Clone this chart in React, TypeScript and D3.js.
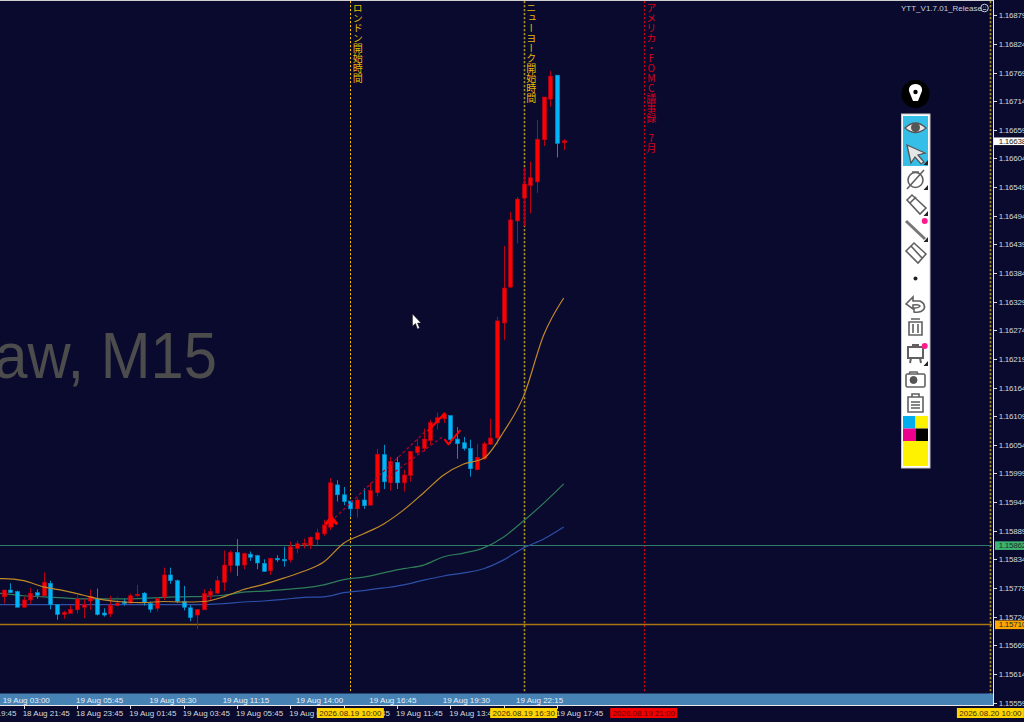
import React from "react";
import * as d3 from "d3";

const width = 1024;
const height = 722;

// OHLC per 15 minute bar
const opens = [
  1.15762, 1.15775, 1.15772, 1.15742, 1.15756, 1.1577, 1.15764, 1.15788, 1.15747, 1.15728,
  1.1573, 1.15737, 1.15742, 1.15754, 1.15758, 1.15731, 1.15729, 1.15745, 1.15753, 1.1575,
  1.15764, 1.15769, 1.15749, 1.1574, 1.15762, 1.15804, 1.15793, 1.15753, 1.15741, 1.15727,
  1.15737, 1.15765, 1.15769, 1.1579, 1.15822, 1.15847, 1.15823, 1.15844, 1.15841, 1.15826,
  1.15812, 1.15836, 1.15834, 1.15833, 1.15855, 1.15862, 1.15861, 1.15872, 1.15883, 1.15896,
  1.15977, 1.15958, 1.15946, 1.15931, 1.15948, 1.15938, 1.15962, 1.16035, 1.15981, 1.1602,
  1.15981, 1.15995, 1.16039, 1.16047, 1.16062, 1.16096, 1.16104, 1.1611, 1.16065, 1.16058,
  1.16047, 1.16006, 1.16027, 1.16055, 1.16067, 1.16288, 1.16357, 1.16484, 1.16528, 1.16552,
  1.16559, 1.1664, 1.16718, 1.16764, 1.16634,
];
const highs = [
  1.15775, 1.15788, 1.15774, 1.15762, 1.15779, 1.15776, 1.15809, 1.15793, 1.15747, 1.15735,
  1.15746, 1.15765, 1.15758, 1.15776, 1.15778, 1.1574, 1.15764, 1.15762, 1.15758, 1.15768,
  1.15785, 1.15771, 1.15753, 1.15762, 1.15818, 1.15818, 1.15795, 1.15783, 1.15746, 1.15738,
  1.15777, 1.15778, 1.15802, 1.15851, 1.15851, 1.15873, 1.15847, 1.15849, 1.15843, 1.15834,
  1.15837, 1.15842, 1.15858, 1.15868, 1.1587, 1.15874, 1.15878, 1.15893, 1.1591, 1.1599,
  1.15986, 1.15973, 1.15946, 1.15952, 1.15971, 1.15981, 1.16046, 1.16054, 1.16031, 1.16031,
  1.16006, 1.16042, 1.16065, 1.16085, 1.16102, 1.16116, 1.16116, 1.1611, 1.16088, 1.16069,
  1.16064, 1.16056, 1.1606, 1.16104, 1.163, 1.16436, 1.16501, 1.1653, 1.16586, 1.16598,
  1.16678, 1.16722, 1.16772, 1.16764, 1.16641,
];
const lows = [
  1.15749, 1.1577, 1.15742, 1.15742, 1.15748, 1.15758, 1.15764, 1.15738, 1.15718, 1.1572,
  1.1573, 1.1573, 1.15721, 1.15737, 1.15726, 1.15724, 1.15723, 1.15744, 1.15745, 1.15749,
  1.15762, 1.15745, 1.15732, 1.15734, 1.15756, 1.15787, 1.1575, 1.15736, 1.15715, 1.157,
  1.15737, 1.15754, 1.15768, 1.15773, 1.15809, 1.15802, 1.15815, 1.15831, 1.15815, 1.1581,
  1.15804, 1.15829, 1.1582, 1.15828, 1.15846, 1.15855, 1.15854, 1.15861, 1.15879, 1.1589,
  1.15945, 1.15938, 1.15916, 1.15914, 1.15931, 1.15938, 1.15955, 1.15969, 1.15966, 1.15969,
  1.15964, 1.15983, 1.16035, 1.16041, 1.16054, 1.16083, 1.16096, 1.16056, 1.16027, 1.16043,
  1.15993, 1.16006, 1.16025, 1.16054, 1.16054, 1.16255, 1.16355, 1.16441, 1.16474, 1.16499,
  1.16538, 1.16628, 1.16703, 1.16606, 1.1662,
];
const closes = [
  1.15775, 1.1577, 1.15742, 1.15756, 1.15769, 1.15765, 1.1579, 1.15747, 1.15728, 1.15732,
  1.15738, 1.15758, 1.15747, 1.15763, 1.15728, 1.15727, 1.15746, 1.1575, 1.15749, 1.15764,
  1.15767, 1.15751, 1.15738, 1.15759, 1.15804, 1.15793, 1.15753, 1.15742, 1.15722, 1.15738,
  1.15768, 1.15772, 1.15793, 1.15823, 1.15847, 1.15822, 1.15845, 1.15838, 1.15827, 1.15811,
  1.15836, 1.15833, 1.15832, 1.15858, 1.15864, 1.15865, 1.15876, 1.15885, 1.159, 1.15981,
  1.15958, 1.15945, 1.15931, 1.15948, 1.15937, 1.15966, 1.16036, 1.15983, 1.16022, 1.15981,
  1.15996, 1.16041, 1.16051, 1.16065, 1.16097, 1.16106, 1.16113, 1.16064, 1.16056, 1.16047,
  1.16008, 1.1603, 1.16056, 1.16067, 1.16292, 1.16355, 1.16486, 1.16526, 1.16555, 1.16567,
  1.16641, 1.16722, 1.16762, 1.16633, 1.16638,
];

// moving averages, read at the left edge and then every third bar
const maBars = [-1, ...d3.range(0, 85, 3)];
const maOrange = [
  1.15797, 1.15797, 1.15793, 1.15781, 1.15774, 1.15765, 1.15756, 1.15752, 1.15751, 1.15753, 1.15752,
  1.15753, 1.15762, 1.15776, 1.15786, 1.15798, 1.15811, 1.15829, 1.15865, 1.15883, 1.15902,
  1.15929, 1.15962, 1.15996, 1.16017, 1.16028, 1.16079, 1.16148, 1.16265, 1.16336,
];
const maGreen = [
  1.15769, 1.15768, 1.15764, 1.15762, 1.1576, 1.15758, 1.15758, 1.15758, 1.15759, 1.15761, 1.15762,
  1.15763, 1.15765, 1.15771, 1.15773, 1.15776, 1.15779, 1.15785, 1.15795, 1.158, 1.15808,
  1.15816, 1.15823, 1.15839, 1.15846, 1.15856, 1.15877, 1.15908, 1.15942, 1.15979,
];
const maBlue = [
  1.15747, 1.15747, 1.15747, 1.15747, 1.15747, 1.15747, 1.15747, 1.15747, 1.15747, 1.15747, 1.15747,
  1.15747, 1.15749, 1.15752, 1.15754, 1.15757, 1.15761, 1.15762, 1.1577, 1.15774, 1.15779,
  1.15785, 1.15794, 1.15802, 1.15808, 1.15816, 1.15833, 1.15856, 1.15873, 1.15896,
];

const priceTicks = [
  1.16879, 1.16824, 1.16769, 1.16714, 1.16659, 1.16604, 1.16549, 1.16494, 1.16439, 1.16384,
  1.16329, 1.16274, 1.16219, 1.16164, 1.16109, 1.16054, 1.15999, 1.15944, 1.15889, 1.15834,
  1.15779, 1.15724, 1.15669, 1.15614, 1.15559,
];

// labels in the blue strip, every 11 bars
const stripBars = [0, 11, 22, 33, 44, 55, 66, 77];
const stripLabels = [
  "19 Aug 03:00", "19 Aug 05:45", "19 Aug 08:30", "19 Aug 11:15",
  "19 Aug 14:00", "19 Aug 16:45", "19 Aug 19:30", "19 Aug 22:15",
];

// labels under the axis, every 8 bars
const timeBars = [-5, 3, 11, 19, 27, 35, 43, 51, 59, 67, 75, 83];
const timeLabels = [
  "18 Aug 19:45", "18 Aug 21:45", "18 Aug 23:45", "19 Aug 01:45", "19 Aug 03:45", "19 Aug 05:45",
  "19 Aug 07:45", "19 Aug 09:45", "19 Aug 11:45", "19 Aug 13:45", "19 Aug 15:45", "19 Aug 17:45",
];

const eventBars = [52, 78, 96, 148];
const eventLabels = ["2026.08.19 10:00", "2026.08.19 16:30", "2026.08.19 21:00", "2026.08.20 10:00"];
const eventNames = ["ロンドン開始時間", "ニューヨーク開始時間", "アメリカ・FOMC議事録　7月", ""];
const eventColors = ["#f0bc00", "#a89020", "#c80020", "#a89020"];
const eventTags = ["#ffd400", "#ffd400", "#f00000", "#ffd400"];
const eventText = ["#3a2c00", "#3a2c00", "#6a0000", "#3a2c00"];
const eventWidths = [1, 1.6, 1.2, 1.6];

const levels = [1.15862, 1.1571];
const levelColors = ["#2f7d68", "#a87414"];
const levelWidths = [1, 1.6];
const tagColors = ["#3cb371", "#ffa500"];
const lastPrice = 1.16638;

// drawn trend lines on the chart: [bar, price, bar, price]
const trendLines = [
  [49.7, 1.15914, 63.2, 1.16079],
  [57.4, 1.1599, 65.9, 1.1607],
];

const BG = "#0a0a2e";
const FONT = "'Liberation Sans', Arial, sans-serif";
const CJK = "'Noto Sans CJK JP', sans-serif";

const x = d3.scaleLinear().domain([0, 148]).range([3.67, 990.4]);
const y = d3.scaleLinear().domain([1.15559, 1.16879]).range([702.5, 15.3]);

const maLine = d3
  .line<number>()
  .x((_, i) => x(maBars[i]))
  .y((d) => y(d))
  .curve(d3.curveMonotoneX);

function Candles() {
  return (
    <g>
      {opens.map((o, i) => {
        const c = closes[i];
        const up = c >= o;
        const cx = Math.round(x(i)) + 0.5;
        const top = y(Math.max(o, c));
        const bot = y(Math.min(o, c));
        return (
          <g key={i}>
            <line
              x1={cx}
              x2={cx}
              y1={y(highs[i])}
              y2={y(lows[i])}
              stroke={up ? "#b80018" : "#0090c8"}
            />
            <rect
              x={cx - 2}
              y={top}
              width={4}
              height={Math.max(bot - top, 1.5)}
              fill={up ? "#ff0000" : "#00b4fa"}
              stroke={up ? "#b80018" : "#0090c8"}
              strokeWidth={0.6}
            />
          </g>
        );
      })}
    </g>
  );
}

function Annotations() {
  return (
    <g>
      {trendLines.map((t, i) => (
        <line
          key={i}
          x1={x(t[0])}
          y1={y(t[1])}
          x2={x(t[2])}
          y2={y(t[3])}
          stroke="#a80028"
          strokeWidth={1.3}
          strokeDasharray="3 2.5"
        />
      ))}
      <path
        d="M1 -7 L-6 1 L-4 3 L-1 0.5 L-1 5 L3 5 L3 0.5 L6 3 L8 1 Z"
        transform={`translate(${x(49)},${y(1.15905)})`}
        fill="#ff0000"
      />
      <path
        d="M0 0 L4 5 L16 -9"
        transform={`translate(${x(66.1)},${y(1.16065)})`}
        fill="none"
        stroke="#ff0000"
        strokeWidth={2}
      />
      <line
        x1={x(63.6)}
        y1={y(1.1608)}
        x2={x(66.2)}
        y2={y(1.16115)}
        stroke="#ff0000"
        strokeWidth={2}
      />
    </g>
  );
}

function Toolbar() {
  const icon = { fill: "none", stroke: "#606060", strokeWidth: 1.6 };
  const corners = [165, 190, 216, 242, 366];
  return (
    <g>
      <circle cx={915.5} cy={94} r={14} fill="#000" />
      <path d="M915.5 84 C910 84 908.5 88 909 91 L913 101 L918 101 L922 91 C922.5 88 921 84 915.5 84 Z" fill="#fff" />
      <circle cx={915.5} cy={92} r={2.2} fill="#000" />
      <rect x={901.5} y={114} width={28.5} height={354} fill="#fff" stroke="#c8c8c8" />
      <rect x={903} y={116} width={25} height={50} fill="#35bfe8" />
      {/* eye */}
      <path d="M905 128 Q915.5 118 926 128 Q915.5 137 905 128 Z" fill="#e6e6e6" stroke="#555" strokeWidth={1.3} />
      <circle cx={915.5} cy={127.5} r={4.5} fill="#555" />
      {/* cursor */}
      <path d="M907 145 L925 153 L918 155 L924 162 L921 164 L915 157 L911 163 Z" fill="#e6e6e6" stroke="#555" strokeWidth={1.3} />
      {/* compass */}
      <circle cx={915.5} cy={180} r={7.5} {...icon} />
      <path d="M907 189 L924 170 M912 172 L919 172" {...icon} />
      {/* pen */}
      <path d="M907 200 L912 195 L926 208 L920 214 Z" {...icon} />
      <path d="M910 203 L916 197" {...icon} />
      {/* line */}
      <path d="M906 221 L925 239" fill="none" stroke="#777" strokeWidth={3} />
      {/* eraser */}
      <path d="M906 251 L914 243 L926 254 L918 263 Z" {...icon} />
      <path d="M911 246 L922 258" {...icon} />
      <circle cx={915.5} cy={278.5} r={2} fill="#222" />
      {/* undo */}
      <path d="M906 304 L913 297 L913 301 L920 301 Q926 304 924 309 Q921 313 914 312 L914 308 Q919 308 920 306 Q919 304 913 305 L913 309 Z" {...icon} />
      {/* trash */}
      <path d="M909 322 H922 V335 H909 Z M911 319 H920 M913 324 V333 M918 324 V333" {...icon} />
      {/* easel */}
      <path d="M908 347 H923 V358 H908 Z M911 358 L910 363 M920 358 L921 363 M912 345 H919" {...icon} strokeWidth={2} />
      {/* camera */}
      <rect x={906} y={374} width={19} height={13} rx={1.5} {...icon} />
      <circle cx={913.5} cy={380} r={3.5} fill="#555" stroke="#555" />
      <path d="M909 374 L910 372 H917 L918 374" {...icon} />
      {/* clipboard */}
      <path d="M908 397 H923 V412 H908 Z M912 397 V394 H919 V397 M911 402 H920 M911 405 H920 M911 408 H920" {...icon} />
      {corners.map((c) => (
        <path key={c} d={`M928 ${c} L923.5 ${c} L928 ${c - 5} Z`} fill="#222" />
      ))}
      <circle cx={924.7} cy={221} r={3} fill="#ff1a8c" />
      <circle cx={924.7} cy={346} r={3} fill="#ff1a8c" />
      <rect x={903} y={416} width={12.5} height={12.5} fill="#00aeef" />
      <rect x={915.5} y={416} width={12.5} height={12.5} fill="#fff200" />
      <rect x={903} y={428.5} width={12.5} height={12.5} fill="#ec008c" />
      <rect x={915.5} y={428.5} width={12.5} height={12.5} fill="#000" />
      <rect x={903} y={441} width={25} height={25} fill="#fff200" />
    </g>
  );
}

export default function App() {
  return (
    <svg
      width={width}
      height={height}
      style={{ position: "fixed", left: 0, top: 0, display: "block", background: BG }}
      fontFamily={FONT}
      fontSize={8}
    >
      <rect width={width} height={height} fill={BG} />
      <text
        textAnchor="end"
        fontSize={65}
        fill="#4c4c4c"
        transform="translate(217,378) scale(0.92,1)"
      >
        aw, M15
      </text>

      {/* events */}
      {eventBars.map((b, i) => (
        <line
          key={b}
          x1={Math.round(x(b)) + 0.5}
          x2={Math.round(x(b)) + 0.5}
          y1={1}
          y2={i === 3 ? 705 : 693}
          stroke={eventColors[i]}
          strokeWidth={eventWidths[i]}
          strokeDasharray="2.2 1.8"
        />
      ))}
      {eventNames.map((n, i) => (
        <text
          key={i}
          x={x(eventBars[i]) + 7.5}
          y={3}
          fontFamily={CJK}
          fontSize={10}
          fill={i === 2 ? "#d8001c" : "#e8b800"}
          style={{ writingMode: "vertical-rl", textOrientation: "upright" }}
        >
          {n}
        </text>
      ))}

      {/* levels */}
      {levels.map((l, i) => (
        <line
          key={l}
          x1={0}
          x2={992}
          y1={Math.round(y(l)) + 0.5}
          y2={Math.round(y(l)) + 0.5}
          stroke={levelColors[i]}
          strokeWidth={levelWidths[i]}
        />
      ))}

      {/* moving averages */}
      <path d={maLine(maBlue) ?? ""} fill="none" stroke="#2c4fa8" strokeWidth={1.2} />
      <path d={maLine(maGreen) ?? ""} fill="none" stroke="#2f7d58" strokeWidth={1.2} />

      <Candles />
      <path d={maLine(maOrange) ?? ""} fill="none" stroke="#c08a26" strokeWidth={1.2} />
      <Annotations />

      {/* mouse pointer */}
      <path d="M412.5 314 L412.5 326 L415.5 323.5 L417.5 329 L419.5 328 L417.5 323 L421 323 Z" fill="#fff" stroke="#222" strokeWidth={0.5} />

      {/* top right label */}
      <text x={901} y={10.5} fill="#c8d0d8" fontSize={8}>YTT_V1.7.01_Release</text>
      <circle cx={984.5} cy={8} r={3.8} fill="none" stroke="#c8d0d8" />
      <path d="M982.8 9.5 H986.2 M983 7 H983.6 M985.4 7 H986" stroke="#c8d0d8" strokeWidth={0.8} />

      <Toolbar />

      {/* frame and strip */}
      <rect x={0} y={0} width={994} height={1} fill="#d0d0d0" />
      <rect x={0} y={693.5} width={993} height={11.5} fill="#4682b4" />
      {stripBars.map((b, i) => (
        <text key={b} x={x(b) - 1} y={702.5} fill="#e8eef4">{stripLabels[i]}</text>
      ))}
      <rect x={0} y={705} width={994} height={1} fill="#e8e8e8" />
      <rect x={993} y={0} width={1} height={706} fill="#e8e8e8" />

      {/* price axis */}
      {priceTicks.map((p) => (
        <g key={p}>
          <line x1={994} x2={997} y1={Math.round(y(p)) + 0.5} y2={Math.round(y(p)) + 0.5} stroke="#d8d8d8" />
          <text x={998.7} y={y(p) + 3} fill="#d8d8d8" letterSpacing={-0.25}>{d3.format(".5f")(p)}</text>
        </g>
      ))}
      {levels.map((l, i) => (
        <g key={l}>
          <rect x={995} y={y(l) - 3.9 + 0.5} width={29} height={8.6} fill={tagColors[i]} />
          <text x={998.7} y={y(l) + 3.6} fill="#1c3020" letterSpacing={-0.25}>{d3.format(".5f")(l)}</text>
        </g>
      ))}
      <rect x={994} y={y(lastPrice) - 3.3} width={30} height={7.6} fill="#fff" />
      <text x={998.7} y={y(lastPrice) + 3.2} fill="#222" letterSpacing={-0.25}>{d3.format(".5f")(lastPrice)}</text>

      {/* time axis */}
      {timeBars.map((b, i) => (
        <g key={b}>
          <line x1={Math.round(x(b)) + 0.5} x2={Math.round(x(b)) + 0.5} y1={706} y2={709} stroke="#d8d8d8" />
          <text x={x(b) - 1} y={716} fill="#d8d8d8">{timeLabels[i]}</text>
        </g>
      ))}
      {eventBars.map((b, i) => (
        <g key={b}>
          <rect x={x(b) - 33.5} y={708} width={67} height={10} fill={eventTags[i]} />
          <text x={x(b)} y={716} textAnchor="middle" fill={eventText[i]}>{eventLabels[i]}</text>
        </g>
      ))}
    </svg>
  );
}
